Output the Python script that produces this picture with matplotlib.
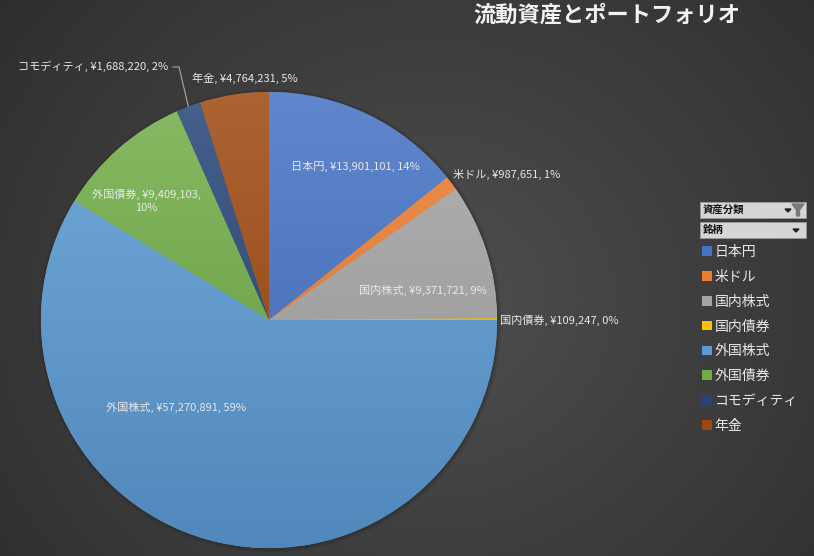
import numpy as np
import matplotlib
matplotlib.use("Agg")
import matplotlib.pyplot as plt
from matplotlib.patches import Rectangle, Circle, Polygon

plt.rcParams['font.family'] = ['Noto Sans CJK JP', 'DejaVu Sans']

# ---- data ----
title = "流動資産とポートフォリオ"
categories = ["日本円", "米ドル", "国内株式", "国内債券", "外国株式", "外国債券", "コモディティ", "年金"]
values = [13901101, 987651, 9371721, 109247, 57270891, 9409103, 1688220, 4764231]
# percentages as displayed (Excel adjusts them to total 100)
percents = [14, 1, 9, 0, 59, 10, 2, 5]
colors = ["#4472C4", "#ED7D31", "#A5A5A5", "#FFC000", "#5B9BD5", "#70AD47", "#264478", "#9E480E"]
fields = ["資産分類", "銘柄"]

# ---- layout (pixel coords, y from top) ----
W, H = 814, 556
CX, CY, R = 269, 320, 228
label_pos = {
    "日本円": (355, 166), "米ドル": (507, 174), "国内株式": (423, 290),
    "国内債券": (559, 320), "外国株式": (176, 407), "外国債券": (146, 201),
    "コモディティ": (93, 66), "年金": (245, 78),
}


def py(y):
    return H - y


fig = plt.figure(figsize=(W / 100, H / 100), dpi=100)
ax = fig.add_axes([0, 0, 1, 1])

# background radial gradient
yy, xx = np.mgrid[0:H, 0:W]
d = np.sqrt(((xx - 430) / 1.1) ** 2 + (yy - 300) ** 2)
lum = np.clip(0.31 - 0.00026 * d, 0.16, 0.31)
ax.imshow(np.dstack([lum] * 3), extent=(0, W, 0, H), origin="upper", zorder=0)

# soft shadow around the pie
for k in range(5):
    ax.add_patch(Circle((CX + 1, py(CY) - 1), R + 0.5 + k * 0.8, color="black",
                        alpha=0.035, lw=0, zorder=1))

wedges, _ = ax.pie(values, colors=colors, startangle=90, counterclock=False,
                   center=(CX, py(CY)), radius=R, frame=True,
                   wedgeprops=dict(linewidth=0.4, edgecolor=(1, 1, 1, 0.15)))

for w, c in zip(wedges, colors):
    w.set_zorder(2)
    rgb = np.array(matplotlib.colors.to_rgb(c))
    top = rgb + (1 - rgb) * 0.15
    bot = rgb * 0.88
    t = np.linspace(0, 1, 256)[:, None, None]
    grad = top * (1 - t) + bot * t
    im = ax.imshow(grad, extent=(CX - R, CX + R, py(CY) - R, py(CY) + R),
                   origin="upper", zorder=3, aspect="auto")
    im.set_clip_path(w)

for cat, v, pct in zip(categories, values, percents):
    txt = f"{cat}, ¥{v:,}, {pct}%"
    if cat == "外国債券":
        txt = f"{cat}, ¥{v:,},\n{pct}%"
    x, y = label_pos[cat]
    ax.text(x, py(y), txt, ha="center", va="center", fontsize=8, color="#e8e8e8",
            linespacing=1.3, zorder=5)

# leader line for コモディティ
wc = wedges[categories.index("コモディティ")]
mid = np.deg2rad((wc.theta1 + wc.theta2) / 2)
ex, ey = CX + R * np.cos(mid), py(CY) + R * np.sin(mid)
ax.plot([173, 179, ex], [py(67), py(67), ey], color="#a6a6a6", lw=0.8, zorder=5)

# title
ax.text(607, py(15), title, ha="center", va="center", fontsize=16,
        fontweight="bold", color="#f2f2f2", zorder=5)

# pivot field buttons
for i, f in enumerate(fields):
    y0 = 202 + i * 20
    ax.add_patch(Rectangle((700, py(y0 + 16)), 106, 16, facecolor="#d6d6d6",
                           edgecolor="#9a9a9a", lw=0.6, zorder=5))
    ax.text(703, py(y0 + 8), f, ha="left", va="center", fontsize=7.5,
            fontweight="bold", color="#111111", zorder=6)
    off = 8 if i == 0 else 0
    ax.add_patch(Polygon([(793 - off, py(y0 + 7)), (799 - off, py(y0 + 7)),
                          (796 - off, py(y0 + 10))], color="#222222", zorder=6))
    if i == 0:
        ax.add_patch(Polygon([(792, py(y0 + 2)), (804, py(y0 + 2)), (799.5, py(y0 + 8)),
                              (799.5, py(y0 + 14)), (796.5, py(y0 + 14)), (796.5, py(y0 + 8))],
                             color="#7a7a7a", zorder=6))

ax.set_xlim(0, W)
ax.set_ylim(0, H)
ax.set_aspect("auto")
ax.axis("off")

handles = [Rectangle((0, 0), 1, 1, facecolor=c) for c in colors]
leg = fig.legend(handles, categories, loc="upper left",
                 bbox_to_anchor=(702 / W, 1 - 245 / H), frameon=False,
                 fontsize=10, labelspacing=0.78, handlelength=0.7, handleheight=0.7,
                 handletextpad=0.2, borderpad=0, borderaxespad=0)
for t in leg.get_texts():
    t.set_color("#e8e8e8")

fig.savefig("out.png", dpi=100)
